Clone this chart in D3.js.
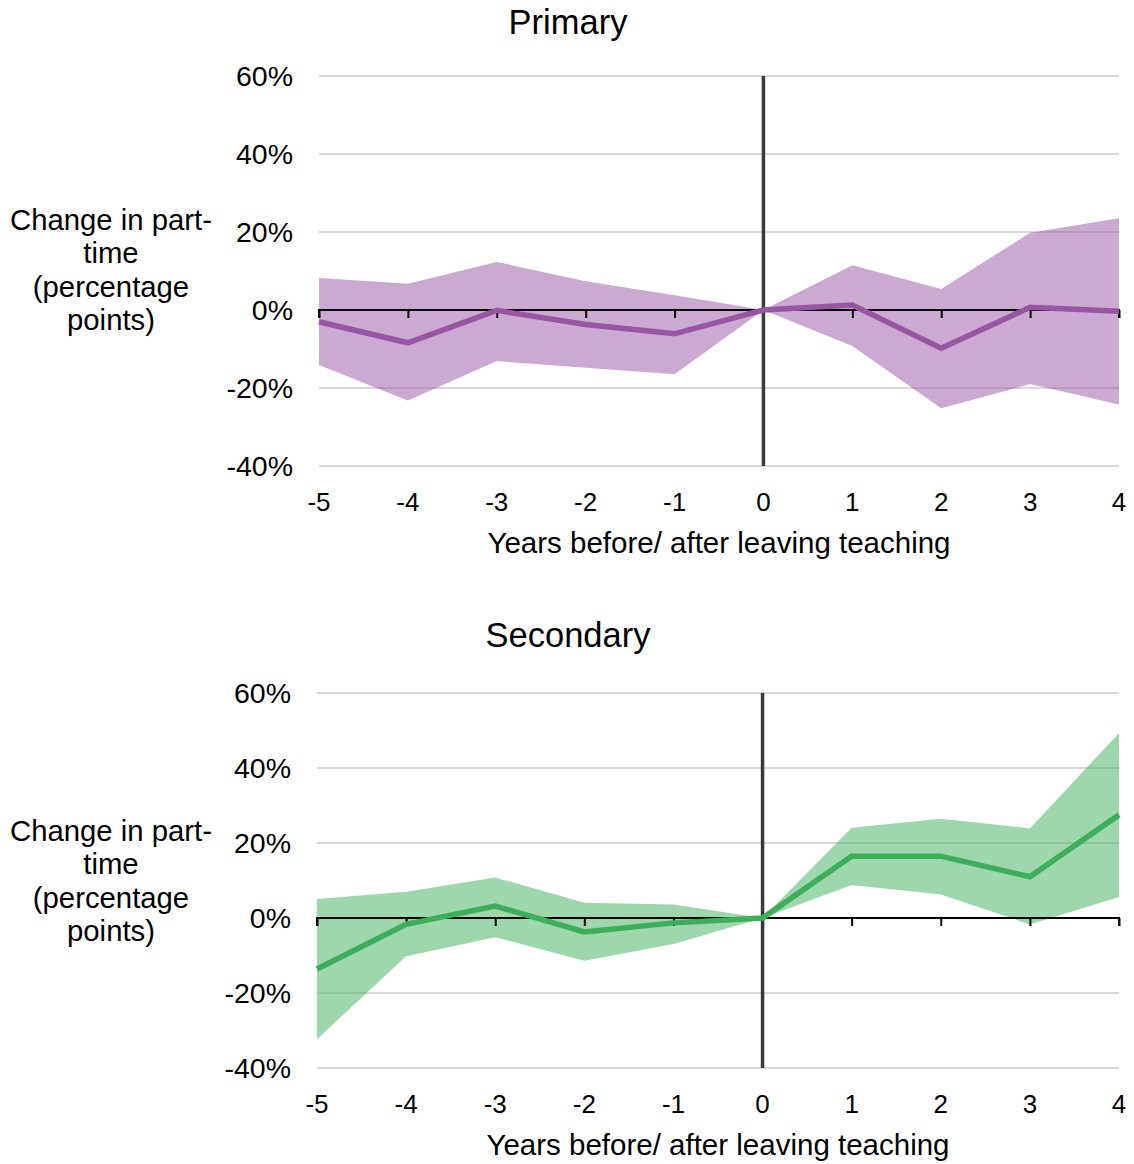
<!DOCTYPE html>
<html>
<head>
<meta charset="utf-8">
<script src="https://cdn.jsdelivr.net/npm/d3@7"></script>
<style>
  html, body { margin: 0; padding: 0; background: #fff; }
  svg { display: block; font-family: "Liberation Sans", Arial, sans-serif; }
</style>
</head>
<body>
<svg id="chart" width="1134" height="1164"></svg>
<script>
const years = [-5, -4, -3, -2, -1, 0, 1, 2, 3, 4];
const yTicks = [-40, -20, 0, 20, 40, 60];
const yTitleLines = ["Change in part-", "time", "(percentage", "points)"];
const xTitle = "Years before/ after leaving teaching";

const primaryMid   = [-3.0, -8.4, -0.1, -3.7, -6.1, 0, 1.3, -9.8, 0.7, -0.3];
const primaryUpper = [8.2, 6.7, 12.3, 7.4, 3.8, 0, 11.5, 5.4, 19.8, 23.5];
const primaryLower = [-14.1, -23.2, -13.1, -14.8, -16.5, 0, -9.2, -25.2, -19.0, -24.2];

const secondaryMid   = [-13.6, -1.7, 3.2, -3.7, -1.3, 0, 16.5, 16.5, 11.0, 27.5];
const secondaryUpper = [5.1, 7.0, 10.8, 4.1, 3.6, 0, 24.1, 26.5, 23.9, 49.3];
const secondaryLower = [-32.3, -10.2, -5.1, -11.4, -6.9, 0, 8.8, 6.3, -1.7, 5.6];

const panels = [
  { title: "Primary", mid: primaryMid, upper: primaryUpper, lower: primaryLower,
    color: "#9656a2", left: 319, right: 1119, top: 76, bottom: 466, titleY: 34 },
  { title: "Secondary", mid: secondaryMid, upper: secondaryUpper, lower: secondaryLower,
    color: "#3dae5b", left: 317, right: 1119, top: 693, bottom: 1068, titleY: 647 }
];

const svg = d3.select("#chart");

panels.forEach(p => {
  const g = svg.append("g");
  const x = d3.scaleLinear().domain([-5, 4]).range([p.left, p.right]);
  const y = d3.scaleLinear().domain([-40, 60]).range([p.bottom, p.top]);
  const data = years.map((yr, i) => ({ yr, mid: p.mid[i], up: p.upper[i], lo: p.lower[i] }));

  // title
  g.append("text").attr("x", 568).attr("y", p.titleY)
    .attr("text-anchor", "middle").attr("font-size", 34.5).attr("fill", "#000")
    .text(p.title);

  // gridlines
  g.append("g").selectAll("line").data(yTicks.filter(t => t !== 0)).join("line")
    .attr("x1", p.left).attr("x2", p.right)
    .attr("y1", d => y(d)).attr("y2", d => y(d))
    .attr("stroke", "#d9d9d9").attr("stroke-width", 2);

  // y tick labels
  g.append("g").selectAll("text").data(yTicks).join("text")
    .attr("x", p.left - 26).attr("y", d => y(d)).attr("dy", "0.36em")
    .attr("text-anchor", "end").attr("font-size", 28.5).attr("fill", "#000")
    .text(d => d + "%");

  // band
  g.append("path").datum(data)
    .attr("d", d3.area().x(d => x(d.yr)).y0(d => y(d.lo)).y1(d => y(d.up)))
    .attr("fill", p.color).attr("fill-opacity", 0.5);

  // zero axis with ticks
  const axis = g.append("g").attr("transform", `translate(0,${y(0)})`)
    .call(d3.axisBottom(x).tickValues(years).tickSize(8).tickFormat(""));
  axis.select(".domain").attr("stroke", "#000").attr("stroke-width", 2)
    .attr("d", `M${p.left},8V0H${p.right}V8`);
  axis.selectAll(".tick line").attr("stroke", "#000").attr("stroke-width", 2);

  // vertical line at 0
  g.append("line").attr("x1", x(0)).attr("x2", x(0))
    .attr("y1", p.top).attr("y2", p.bottom)
    .attr("stroke", "#3a3a3a").attr("stroke-width", 3.5);

  // mid line
  g.append("path").datum(data)
    .attr("d", d3.line().x(d => x(d.yr)).y(d => y(d.mid)))
    .attr("fill", "none").attr("stroke", p.color).attr("stroke-width", 5.5)
    .attr("stroke-linejoin", "miter");

  // x tick labels
  g.append("g").selectAll("text").data(years).join("text")
    .attr("x", d => x(d)).attr("y", p.bottom + 45)
    .attr("text-anchor", "middle").attr("font-size", 26).attr("fill", "#000")
    .text(d => d);

  // x title
  g.append("text").attr("x", (p.left + p.right) / 2).attr("y", p.bottom + 87)
    .attr("text-anchor", "middle").attr("font-size", 29.5).attr("fill", "#000")
    .text(xTitle);

  // y title
  const yt = g.append("text").attr("text-anchor", "middle").attr("font-size", 29.3).attr("fill", "#000");
  yTitleLines.forEach((line, i) => {
    yt.append("tspan").attr("x", 111).attr("y", y(20) - 2 + i * 33.3).text(line);
  });
});
</script>
</body>
</html>
